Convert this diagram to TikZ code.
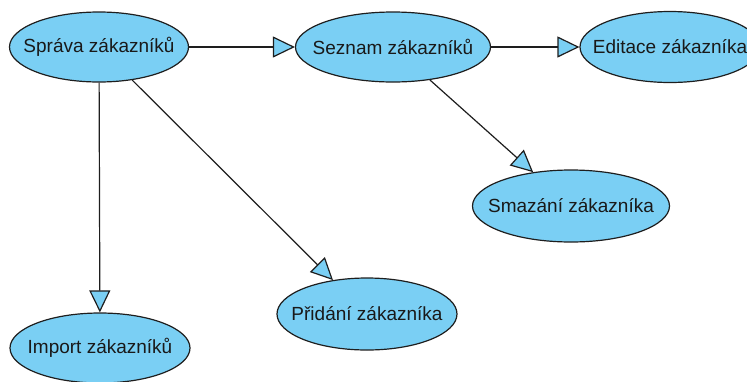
\documentclass[tikz,border=0pt]{standalone}
\usepackage{fontspec}
\setmainfont{Liberation Sans}
\usetikzlibrary{shapes.geometric,arrows.meta}
\definecolor{usecase}{RGB}{122,207,244}
\definecolor{edgeline}{RGB}{30,30,30}
% labels are set in zero-width boxes so the ellipse size is fixed by minimum width/height
\newcommand{\uclabel}[1]{\makebox[0pt]{#1}}
\begin{document}
\begin{tikzpicture}[x=1pt,y=1pt,
  usecasebox/.style={ellipse,draw=edgeline,line width=1.2pt,fill=usecase,
    inner sep=0pt,text=black!90,font=\fontsize{19}{22}\selectfont},
  flow/.style={draw=edgeline,line width=1.2pt,
    -{Triangle[length=22pt,width=21pt,fill=usecase,line width=1.2pt]}}]
\useasboundingbox (0,0) rectangle (747,-381);
\begin{scope}
\clip (0,0) rectangle (747,-381);
\node[usecasebox,minimum width=179pt,minimum height=70pt] (sprava) at (99,-47) {\uclabel{Správa zákazníků}};
\node[usecasebox,minimum width=195pt,minimum height=70pt] (seznam) at (393,-47) {\uclabel{Seznam zákazníků}};
\node[usecasebox,minimum width=180pt,minimum height=71pt] (editace) at (670,-47) {\uclabel{Editace zákazníka}};
\node[usecasebox,minimum width=197pt,minimum height=72pt] (smazani) at (571,-206) {\uclabel{Smazání zákazníka}};
\node[usecasebox,minimum width=180pt,minimum height=72pt] (pridani) at (367,-314) {\uclabel{Přidání zákazníka}};
\node[usecasebox,minimum width=180pt,minimum height=70pt] (import) at (100,-348) {\uclabel{Import zákazníků}};

\draw[flow] (sprava) -- (seznam);
\draw[flow] (seznam) -- (editace);
\draw[flow] (sprava) -- (import);
\draw[flow] (sprava) -- (pridani);
\draw[flow] (seznam) -- (smazani);
\end{scope}
\end{tikzpicture}
\end{document}
